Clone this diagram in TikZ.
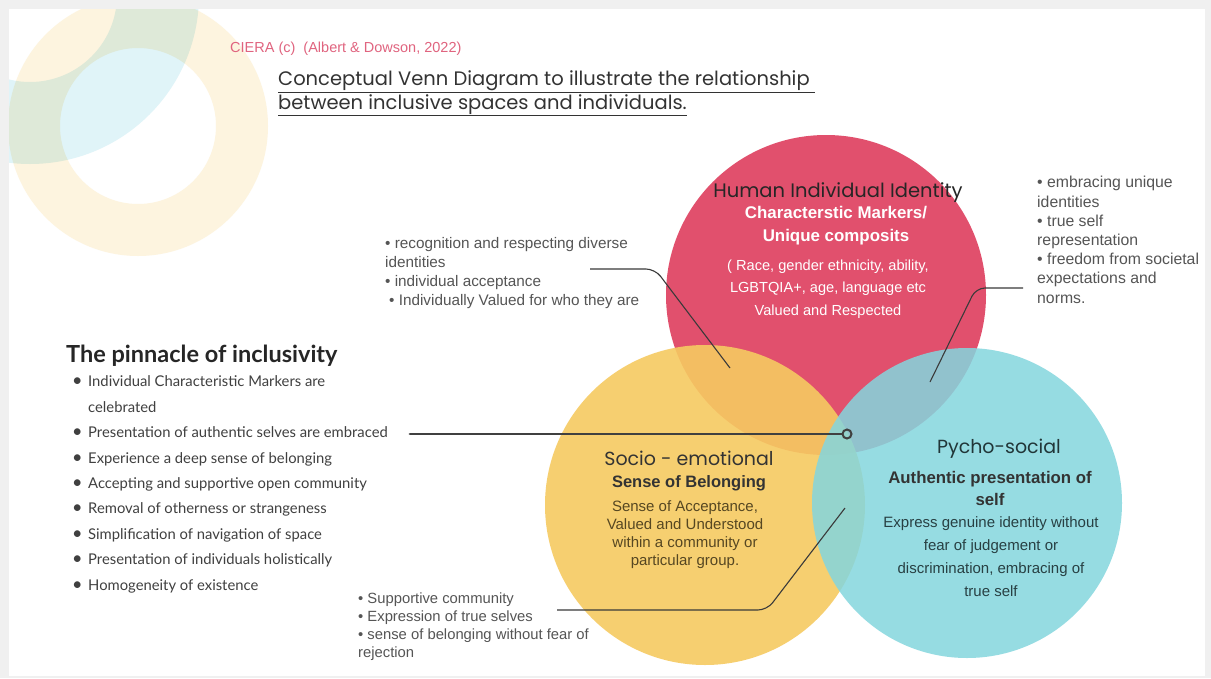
\documentclass[tikz,border=0pt]{standalone}
\usepackage{fontspec}
\setmainfont{Liberation Sans}
\newfontfamily\roundfont{Poppins}
\newfontfamily\latofont{Lato}
\usepackage{tikz}

\definecolor{identred}{HTML}{E1506D}
\definecolor{belongyellow}{HTML}{F6CA61}
\definecolor{socialteal}{HTML}{84D6DE}
\definecolor{decoyellow}{HTML}{FDF4DF}
\definecolor{decoblue}{HTML}{E0F4F8}
\definecolor{notegray}{HTML}{555555}
\definecolor{cierapink}{HTML}{E0647F}
\definecolor{linkgray}{HTML}{3A3A3A}

\newcommand{\pitem}[1]{\makebox[16pt][l]{\fontsize{18}{18}\selectfont •}#1}

\begin{document}
\begin{tikzpicture}[x=1pt, y=-1pt, every node/.style={inner sep=0pt},
    note/.style={anchor=base west, align=left, text=notegray},
    inner/.style={anchor=base, align=center},
    link/.style={draw=linkgray, line width=1.1pt, rounded corners=9pt}]
        \useasboundingbox (0,0) rectangle (1211,678);
        \fill[black!6] (0,0) rectangle (1211,678);
        \fill[white] (9,9) rectangle (1205,676);

        % faint rings behind the caption
        \begin{scope}
            \clip (9,9) rectangle (1205,676);
            \fill[decoyellow, even odd rule] (138,126) circle (130pt) (138,126) circle (78pt);
            \fill[decoblue, blend mode=multiply, even odd rule] (30,-5) circle (169pt) (30,-5) circle (87pt);
        \end{scope}

        \node[circle, fill=identred, minimum size=320pt] (identity) at (826,295) {};
        \node[circle, fill=belongyellow, fill opacity=.9, minimum size=320pt] (belonging) at (705,505) {};
        \node[circle, fill=socialteal, fill opacity=.85, minimum size=310pt] (psychosocial) at (967,503) {};

        \node[anchor=base west, text=cierapink, font=\fontsize{14.5}{16}\selectfont] (ciera) at (230,52) {CIERA (c)\ \ (Albert \& Dowson, 2022)};
        \node[anchor=base west, align=left, text=black!80, font=\roundfont\fontsize{19.5}{20}\selectfont] (heading) at (278,109)
            {\underline{Conceptual Venn Diagram to illustrate the relationship\ }\\\underline{between inclusive spaces and individuals.}};

        % circle texts
        \node[inner, text=black!85, font=\roundfont\fontsize{19.5}{22}\selectfont] (identtitle) at (838,197) {Human Individual Identity};
        \node[inner, text=white, font=\bfseries\fontsize{16.9}{23}\selectfont] (markers) at (836,241) {Characterstic Markers/\\Unique composits};
        \node[inner, text=white, font=\fontsize{14.6}{22.5}\selectfont] (markerlist) at (828,315) {( Race, gender ethnicity, ability,\\LGBTQIA+, age, language etc\\Valued and Respected};

        \node[inner, text=black!80, font=\roundfont\fontsize{19}{22}\selectfont] (belongtitle) at (689,465) {Socio - emotional};
        \node[inner, text=black!80, font=\bfseries\fontsize{16.5}{20}\selectfont] (belongsub) at (689,487) {Sense of Belonging};
        \node[inner, text=black!65!belongyellow, font=\fontsize{15}{17.7}\selectfont] (belongtext) at (685,565)
            {Sense of Acceptance,\\Valued and Understood\\within a community or\\particular group.};

        \node[inner, text=black!75!socialteal, font=\roundfont\fontsize{19}{22}\selectfont] (socialtitle) at (999,453) {Pycho-social};
        \node[inner, text=black!80, font=\bfseries\fontsize{16.8}{22}\selectfont] (socialsub) at (990,505) {Authentic presentation of\\self};
        \node[inner, text=black!70!socialteal, font=\fontsize{15}{23}\selectfont] (socialtext) at (991,596)
            {Express genuine identity without\\fear of judgement or\\discrimination, embracing of\\true self};

        % side notes
        \node[note, font=\fontsize{15.8}{19.2}\selectfont] (uniquenote) at (1037,303) {• embracing unique\\identities\\• true self\\representation\\• freedom from societal\\expectations and\\norms.};
        \node[note, font=\fontsize{15.3}{19}\selectfont] (respectnote) at (385,305) {• recognition and respecting diverse\\identities\\• individual acceptance\\\hspace*{4pt}• Individually Valued for who they are};
        \node[note, font=\fontsize{14.8}{18}\selectfont] (supportnote) at (358,657) {• Supportive community\\• Expression of true selves\\• sense of belonging without fear of\\rejection};

        \node[anchor=base west, text=black!85, font=\latofont\bfseries\fontsize{23.5}{26}\selectfont] (pinnacle) at (66,362) {The pinnacle of inclusivity};
        \node[anchor=base west, align=left, text=black!75, font=\latofont\fontsize{14.8}{25.4}\selectfont] (pinnlist) at (72,590)
            {\pitem{Individual Characteristic Markers are}\\\hspace*{16pt}celebrated\\\pitem{Presentation of authentic selves are embraced}\\
             \pitem{Experience a deep sense of belonging}\\\pitem{Accepting and supportive open community}\\\pitem{Removal of otherness or strangeness}\\
             \pitem{Simplification of navigation of space}\\\pitem{Presentation of individuals holistically}\\\pitem{Homogeneity of existence}};

        % connectors
        \coordinate (respectstart) at (590,269);
        \coordinate (respectend) at (730,368);
        \coordinate (uniquestart) at (1023,288);
        \coordinate (uniqueend) at (930,382);
        \coordinate (supportstart) at (557,610);
        \coordinate (supportend) at (845,508);
        \coordinate (pinnstart) at (410,434);
        \coordinate (pinnend) at (847,434);

        \draw[link] (respectstart) -- (655,269) -- (respectend);
        \draw[link] (uniquestart) -- (976,288) -- (uniqueend);
        \draw[link] (supportstart) -- (767,610) -- (supportend);
        \draw[draw=black!75, line width=2.8pt, line cap=round, shorten >=5pt] (pinnstart) -- (pinnend);
        \draw[draw=black!75, line width=2pt] (pinnend) circle (4.5pt);
\end{tikzpicture}
\end{document}
